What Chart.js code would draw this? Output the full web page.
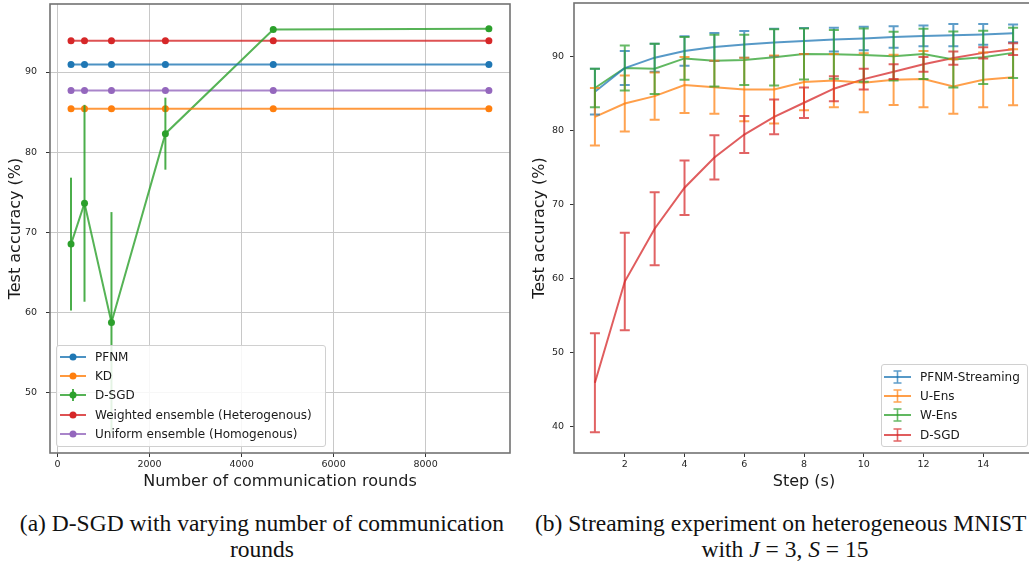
<!DOCTYPE html>
<html>
<head>
<meta charset="utf-8">
<script src="https://cdn.jsdelivr.net/npm/chart.js@4"></script>
<style>
  html, body { margin:0; padding:0; background:#fff; }
  body { width:1029px; height:563px; overflow:hidden; position:relative; font-family:'DejaVu Sans', sans-serif; }
  canvas { position:absolute; top:0; }
  .legend { position:absolute; border:1px solid #d0d0d0; border-radius:3px; background:rgba(255,255,255,0.85); box-sizing:border-box; font-size:12px; color:#1a1a1a; }
  .legend .row { display:flex; align-items:center; height:19.3px; white-space:nowrap; }
  .legend svg { flex-shrink:0; margin-right:9px; }
  .cap { position:absolute; font-family:'Liberation Serif', serif; font-size:23.5px; color:#111; white-space:nowrap; line-height:26px; }
</style>
</head>
<body>
<canvas id="left" width="515" height="500" style="left:0;"></canvas>
<canvas id="right" width="520" height="500" style="left:520px;"></canvas>
<div id="legL" class="legend" style="left:56px;top:345px;width:270px;height:102px;padding:1px 0 0 3px;"></div>
<div id="legR" class="legend" style="left:881px;top:364px;width:147px;height:83px;padding:2px 0 0 2px;"></div>
<div class="cap" style="left:0;width:524px;top:510px;text-align:center;">(a) D-SGD with varying number of communication</div>
<div class="cap" style="left:0;width:524px;top:536px;text-align:center;">rounds</div>
<div class="cap" style="left:535px;top:510px;">(b) Streaming experiment on heterogeneous MNIST</div>
<div class="cap" style="left:635px;width:300px;top:536px;text-align:center;">with <i>J</i> = 3, <i>S</i> = 15</div>

<script>
// left panel: accuracy vs number of communication rounds
const rounds = [293, 586, 1172, 2344, 4688, 9375];
const pfnmAcc = [90.95, 90.95, 90.95, 90.95, 90.95, 90.95];
const kdAcc = [85.4, 85.4, 85.4, 85.4, 85.4, 85.4];
const dsgdAcc = [68.5, 73.6, 58.7, 82.3, 95.3, 95.4];
const dsgdErr = [8.3, 12.3, 13.8, 4.5, 0.2, 0.1];
const weightedAcc = [93.9, 93.9, 93.9, 93.9, 93.9, 93.9];
const uniformAcc = [87.7, 87.7, 87.7, 87.7, 87.7, 87.7];
const leftXTicks = [0, 2000, 4000, 6000, 8000];
const leftYTicks = [50, 60, 70, 80, 90];

// right panel: streaming experiment
const steps = [1, 2, 3, 4, 5, 6, 7, 8, 9, 10, 11, 12, 13, 14, 15];
const pfnmS    = [85.3, 88.5, 89.9, 90.8, 91.35, 91.7, 91.95, 92.15, 92.35, 92.5, 92.7, 92.85, 92.95, 93.05, 93.2];
const pfnmSErr = [3.1, 2.3, 1.9, 2.0, 1.9, 1.8, 1.85, 1.75, 1.6, 1.6, 1.45, 1.4, 1.5, 1.4, 1.2];
const uEns     = [81.9, 83.7, 84.7, 86.2, 85.9, 85.6, 85.6, 86.6, 86.8, 86.5, 86.9, 87.0, 86.0, 86.9, 87.25];
const uEnsErr  = [3.9, 3.8, 3.2, 3.8, 3.6, 4.3, 4.6, 3.8, 3.6, 4.0, 3.4, 3.8, 3.7, 3.7, 3.8];
const wEns     = [85.8, 88.5, 88.4, 89.8, 89.5, 89.6, 89.95, 90.4, 90.35, 90.25, 90.1, 90.4, 89.65, 89.95, 90.55];
const wEnsErr  = [2.6, 3.05, 3.4, 2.9, 3.5, 3.4, 3.8, 3.45, 3.3, 3.6, 3.3, 3.4, 3.8, 3.6, 3.4];
const dsgdS    = [45.9, 59.6, 66.75, 72.3, 76.4, 79.5, 81.9, 83.8, 85.7, 87.0, 88.0, 89.0, 89.85, 90.55, 91.05];
const dsgdSErr = [6.7, 6.6, 4.95, 3.7, 3.0, 2.5, 2.35, 2.05, 1.7, 1.4, 1.0, 1.0, 0.9, 0.75, 0.8];
const rightXTicks = [2, 4, 6, 8, 10, 12, 14];
const rightYTicks = [40, 50, 60, 70, 80, 90];

const C = {blue:'31,119,180', orange:'255,127,14', green:'44,160,44', red:'214,39,40', purple:'148,103,189'};
const rgba = (c, a) => `rgba(${c},${a})`;
const pts = (xs, ys) => xs.map((x, i) => ({x, y: ys[i]}));

const tickFont = {family:'DejaVu Sans', size:9.5};
const titleFont = {family:'DejaVu Sans', size:16};

const errorBars = {
  id: 'errorBars',
  afterDatasetsDraw(chart, args, opts) {
    const {ctx, chartArea:a, scales:{x, y}} = chart;
    ctx.save();
    ctx.beginPath(); ctx.rect(a.left, a.top, a.width, a.height); ctx.clip();
    chart.data.datasets.forEach(ds => {
      if (!ds.errors) return;
      ctx.strokeStyle = ds.errorColor;
      ctx.lineWidth = opts.width;
      ds.data.forEach((p, i) => {
        const px = x.getPixelForValue(p.x);
        const top = y.getPixelForValue(p.y + ds.errors[i]);
        const bot = y.getPixelForValue(p.y - ds.errors[i]);
        ctx.beginPath();
        ctx.moveTo(px, top); ctx.lineTo(px, bot);
        if (opts.cap) {
          ctx.moveTo(px - opts.cap, top); ctx.lineTo(px + opts.cap, top);
          ctx.moveTo(px - opts.cap, bot); ctx.lineTo(px + opts.cap, bot);
        }
        ctx.stroke();
      });
    });
    ctx.restore();
  }
};

const frame = {
  id: 'frame',
  afterDraw(chart) {
    const {ctx, chartArea:a} = chart;
    ctx.save();
    ctx.strokeStyle = '#727272';
    ctx.lineWidth = 1.6;
    ctx.strokeRect(a.left, a.top, a.width, a.height);
    ctx.restore();
  }
};

function axis(o) {
  return {
    type: 'linear', min: o.min, max: o.max,
    afterBuildTicks: s => { s.ticks = o.ticks.map(v => ({value: v})); },
    afterFit: s => {
      if (o.w) s.width = o.w;
      if (o.h) s.height = o.h;
      s.paddingTop = 0; s.paddingBottom = 0; s.paddingLeft = 0; s.paddingRight = 0;
    },
    border: {display: false},
    grid: {color: o.grid ? '#c8c8c8' : 'rgba(0,0,0,0)', lineWidth: 1, tickColor: '#333', tickLength: 4, drawOnChartArea: !!o.grid},
    ticks: {font: tickFont, color: '#262626', padding: o.pad, maxRotation: 0, autoSkip: false, callback: v => String(v)},
    title: {display: true, text: o.title, font: titleFont, color: '#1a1a1a', padding: o.tpad}
  };
}

function lineSet(label, xs, ys, c, extra) {
  return Object.assign({
    label, data: pts(xs, ys),
    borderColor: rgba(c, 0.8), backgroundColor: rgba(c, 1),
    borderWidth: 2, pointRadius: 3.5, pointBorderWidth: 0, pointBackgroundColor: rgba(c, 1),
    tension: 0, fill: false
  }, extra || {});
}

new Chart(document.getElementById('left'), {
  type: 'line',
  data: {
    datasets: [
      lineSet('PFNM', rounds, pfnmAcc, C.blue),
      lineSet('KD', rounds, kdAcc, C.orange),
      lineSet('D-SGD', rounds, dsgdAcc, C.green, {errors: dsgdErr, errorColor: rgba(C.green, 0.85)}),
      lineSet('Weighted ensemble (Heterogenous)', rounds, weightedAcc, C.red),
      lineSet('Uniform ensemble (Homogenous)', rounds, uniformAcc, C.purple)
    ]
  },
  options: {
    responsive: false, animation: false,
    layout: {padding: {top: 3, right: 5, left: 0, bottom: 0}},
    plugins: {legend: {display: false}, tooltip: {enabled: false}, errorBars: {width: 2, cap: 0}},
    scales: {
      x: axis({min: -164, max: 9834, ticks: leftXTicks, h: 47, grid: true, pad: 2, title: 'Number of communication rounds', tpad: {top: 0, bottom: 8.7}}),
      y: axis({min: 42.4, max: 98.5, ticks: leftYTicks, w: 50, grid: true, pad: 9, title: 'Test accuracy (%)', tpad: {top: 5.9, bottom: 0}})
    }
  },
  plugins: [errorBars, frame]
});

function stepSet(label, ys, errs, c) {
  return {
    label, data: pts(steps, ys), errors: errs, errorColor: rgba(c, 0.72),
    borderColor: rgba(c, 0.75), borderWidth: 2, pointRadius: 0, tension: 0, fill: false
  };
}

new Chart(document.getElementById('right'), {
  type: 'line',
  data: {
    datasets: [
      stepSet('PFNM-Streaming', pfnmS, pfnmSErr, C.blue),
      stepSet('U-Ens', uEns, uEnsErr, C.orange),
      stepSet('W-Ens', wEns, wEnsErr, C.green),
      stepSet('D-SGD', dsgdS, dsgdSErr, C.red)
    ]
  },
  options: {
    responsive: false, animation: false,
    layout: {padding: {top: 3, right: 6, left: 0, bottom: 0}},
    plugins: {legend: {display: false}, tooltip: {enabled: false}, errorBars: {width: 2, cap: 5}},
    scales: {
      x: axis({min: 0.3, max: 15.7, ticks: rightXTicks, h: 47, grid: false, pad: 2, title: 'Step (s)', tpad: {top: 0, bottom: 8.7}}),
      y: axis({min: 36.4, max: 97.3, ticks: rightYTicks, w: 54, grid: false, pad: 6, title: 'Test accuracy (%)', tpad: {top: 10.4, bottom: 0}})
    }
  },
  plugins: [errorBars, frame]
});

// legends
const legLeft = [
  ['PFNM', C.blue, false], ['KD', C.orange, false], ['D-SGD', C.green, true],
  ['Weighted ensemble (Heterogenous)', C.red, false], ['Uniform ensemble (Homogenous)', C.purple, false]
];
document.getElementById('legL').innerHTML = legLeft.map(([t, c, eb]) =>
  `<div class="row"><svg width="26" height="14"><line x1="0" y1="7" x2="26" y2="7" stroke="${rgba(c,0.8)}" stroke-width="2"/>` +
  (eb ? `<line x1="13" y1="1" x2="13" y2="13" stroke="${rgba(c,0.85)}" stroke-width="2"/>` : '') +
  `<circle cx="13" cy="7" r="3.5" fill="${rgba(c,1)}"/></svg>${t}</div>`).join('');

const legRight = [['PFNM-Streaming', C.blue], ['U-Ens', C.orange], ['W-Ens', C.green], ['D-SGD', C.red]];
document.getElementById('legR').innerHTML = legRight.map(([t, c]) =>
  `<div class="row"><svg width="27" height="14"><line x1="0" y1="7" x2="27" y2="7" stroke="${rgba(c,0.75)}" stroke-width="2"/>` +
  `<path d="M13.5 1V13M9.5 1H17.5M9.5 13H17.5" stroke="${rgba(c,0.72)}" stroke-width="1.6" fill="none"/></svg>${t}</div>`).join('');
</script>
</body>
</html>
